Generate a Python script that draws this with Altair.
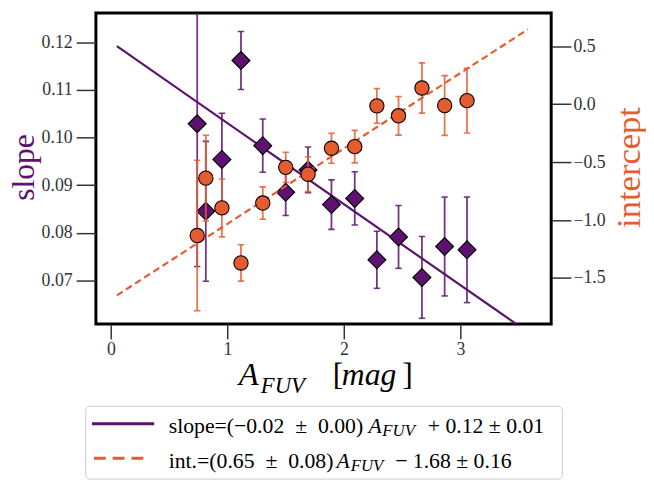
import altair as alt
import pandas as pd

# ---- data ----
a_fuv = [0.74, 0.814, 0.952, 1.116, 1.303, 1.5, 1.692, 1.893, 2.093, 2.283, 2.469, 2.67, 2.865, 3.057]
slope = [0.1029, 0.0845, 0.0954, 0.1162, 0.0983, 0.0885, 0.0932, 0.0859, 0.0872, 0.0743, 0.0791, 0.0706, 0.0771, 0.0764]
slope_err = [0.030, 0.0147, 0.0097, 0.0061, 0.0056, 0.0049, 0.0048, 0.0052, 0.0056, 0.0060, 0.0066, 0.0086, 0.0104, 0.0111]
intercept = [-1.133, -0.638, -0.895, -1.37, -0.853, -0.545, -0.604, -0.38, -0.366, -0.014, -0.10, 0.14, -0.011, 0.031]
intercept_err = [0.65, 0.37, 0.25, 0.157, 0.14, 0.13, 0.15, 0.13, 0.14, 0.15, 0.167, 0.217, 0.258, 0.28]

fit_x = [0.05, 3.58]
slope_fit = [0.1192, 0.0591]
intercept_fit = [-1.65, 0.646]

x_ticks = [0, 1, 2, 3]
slope_ticks = [0.07, 0.08, 0.09, 0.10, 0.11, 0.12]
intercept_ticks = [-1.5, -1.0, -0.5, 0.0, 0.5]

PURPLE = "#5c126e"
ORANGE = "#e55c30"
FONT = "Liberation Serif"
LBL = dict(labelFont=FONT, labelFontSize=18, labelColor="#333333",
           tickColor="#333333", tickWidth=1.5, domain=False, grid=False)

pts = pd.DataFrame({"x": a_fuv, "s": slope, "se": slope_err, "i": intercept, "ie": intercept_err})
pts["s_lo"] = pts["s"] - pts["se"]
pts["s_hi"] = pts["s"] + pts["se"]
pts["i_lo"] = pts["i"] - pts["ie"]
pts["i_hi"] = pts["i"] + pts["ie"]
fit = pd.DataFrame({"x": fit_x, "s": slope_fit, "i": intercept_fit})

xs = alt.Scale(domain=[-0.13, 3.78], nice=False, zero=False)
xaxis = alt.Axis(values=x_ticks, format="d", title=None, tickSize=15, labelPadding=2, **LBL)
X = alt.X("x:Q", scale=xs, axis=xaxis)

s_scale = alt.Scale(domain=[0.0608, 0.1262], nice=False, zero=False)
s_axis = alt.Axis(values=slope_ticks, format=".2f", orient="left", title="slope",
                  titleColor=PURPLE, titleFontSize=32, titleFont=FONT, titleFontWeight="normal",
                  titleAngle=270, titleX=-73, titleY=156, titleAlign="center", titleBaseline="middle",
                  tickSize=20, labelPadding=4, **LBL)
i_scale = alt.Scale(domain=[-1.897, 0.788], nice=False, zero=False)
i_axis = alt.Axis(values=intercept_ticks, format=".1f", orient="right", title="intercept",
                  titleColor=ORANGE, titleFontSize=35, titleFont=FONT, titleFontWeight="normal",
                  titleAngle=270, titleX=78, titleY=156, titleAlign="center", titleBaseline="middle",
                  tickSize=20, labelPadding=2, **LBL)


def SY(f):
    return alt.Y(f"{f}:Q", scale=s_scale, axis=s_axis)


def IY(f):
    return alt.Y(f"{f}:Q", scale=i_scale, axis=i_axis)


base = alt.Chart(pts)
s_line = alt.Chart(fit).mark_line(color=PURPLE, strokeWidth=2.2, clip=True).encode(x=X, y=SY("s"))
s_err = base.mark_rule(color=PURPLE, strokeWidth=1.8, opacity=0.85, clip=True).encode(
    x=X, y=SY("s_lo"), y2="s_hi:Q")
s_cap_lo = base.mark_tick(color=PURPLE, orient="horizontal", size=6.5, thickness=1.6, opacity=0.85, clip=True).encode(x=X, y=SY("s_lo"))
s_cap_hi = base.mark_tick(color=PURPLE, orient="horizontal", size=6.5, thickness=1.6, opacity=0.85, clip=True).encode(x=X, y=SY("s_hi"))
s_pts = base.mark_point(shape="diamond", filled=True, size=330, color=PURPLE, stroke="black",
                        strokeWidth=1.1, opacity=1, clip=True).encode(x=X, y=SY("s"))
slope_layer = alt.layer(s_line, s_err, s_cap_lo, s_cap_hi, s_pts)

i_line = alt.Chart(fit).mark_line(color=ORANGE, strokeWidth=2.2, strokeDash=[7, 4], clip=True).encode(x=X, y=IY("i"))
i_err = base.mark_rule(color=ORANGE, strokeWidth=1.8, opacity=0.85, clip=True).encode(
    x=X, y=IY("i_lo"), y2="i_hi:Q")
i_cap_lo = base.mark_tick(color=ORANGE, orient="horizontal", size=6.5, thickness=1.6, opacity=0.85, clip=True).encode(x=X, y=IY("i_lo"))
i_cap_hi = base.mark_tick(color=ORANGE, orient="horizontal", size=6.5, thickness=1.6, opacity=0.85, clip=True).encode(x=X, y=IY("i_hi"))
i_pts = base.mark_point(shape="circle", filled=True, size=210, color=ORANGE, stroke="black",
                        strokeWidth=1.1, opacity=1, clip=True).encode(x=X, y=IY("i"))
int_layer = alt.layer(i_line, i_err, i_cap_lo, i_cap_hi, i_pts)

one = pd.DataFrame({"k": [0]})


def txt(t, x, y, size, italic=False, color="black", align="left"):
    kw = dict(font=FONT, fontSize=size, align=align, baseline="alphabetic", color=color)
    if italic:
        kw["fontStyle"] = "italic"
    return alt.Chart(one).mark_text(**kw).encode(x=alt.value(x), y=alt.value(y), text=alt.value(t))


deco = [
    # x axis label
    txt("A", 144.7, 377, 33, italic=True),
    txt("FUV", 167, 384.5, 23, italic=True),
    txt("[", 239.7, 377, 32),
    txt("mag", 249, 377, 32, italic=True),
    txt("]", 310.3, 377, 32),
    # legend box
    alt.Chart(one).mark_rect(fill="white", stroke="#cccccc", strokeWidth=1, cornerRadius=4).encode(
        x=alt.value(-10.3), x2=alt.value(472.3), y=alt.value(398.3), y2=alt.value(472)),
    alt.Chart(one).mark_rule(color=PURPLE, strokeWidth=3).encode(
        x=alt.value(-4), x2=alt.value(59), y=alt.value(416)),
    alt.Chart(one).mark_rule(color=ORANGE, strokeWidth=3, strokeDash=[12, 7]).encode(
        x=alt.value(-2), x2=alt.value(54), y=alt.value(451)),
    txt("slope=(\u22120.02\u2002\u00b1\u20020.00)", 73.7, 425, 22),
    txt("A", 276, 425, 22, italic=True),
    txt("FUV", 290, 428, 17, italic=True),
    txt("+ 0.12 \u00b1 0.01", 336, 425, 22),
    txt("int.=(0.65\u2002\u00b1\u20020.08)", 73.7, 460.7, 22),
    txt("A", 243.7, 460.7, 22, italic=True),
    txt("FUV", 258, 463.7, 17, italic=True),
    txt("\u2212 1.68 \u00b1 0.16", 303, 460.7, 22),
]

chart = alt.layer(slope_layer, int_layer, *deco).resolve_scale(y="independent").properties(
    width=461, height=315,
    autosize=alt.AutoSizeParams(type="none"),
    padding={"left": 89, "top": 2, "right": 96, "bottom": 159},
).configure(font=FONT).configure_view(stroke="black", strokeWidth=3).configure_axis(
    domain=False, grid=False, labelFont=FONT, labelFontSize=18, labelColor="#333333",
    tickColor="#333333", tickWidth=1.5,
).configure_text(font=FONT)

chart.save("out.html", embed_options={"renderer": "svg", "actions": False})
